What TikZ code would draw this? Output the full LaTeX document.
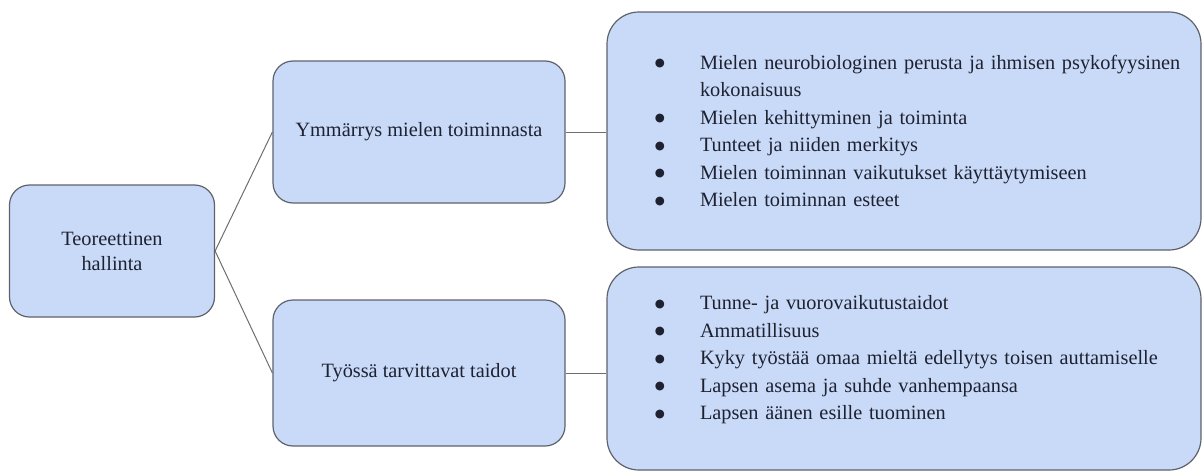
\documentclass[tikz,border=0pt]{standalone}
\usepackage{fontspec}
\setmainfont{Liberation Serif}
\newfontfamily\bulletfont{DejaVu Sans}
\usetikzlibrary{positioning}

\definecolor{boxfill}{HTML}{C9DAF8}
\definecolor{boxline}{HTML}{5E626B}
\definecolor{linkline}{HTML}{6E6E6E}
\definecolor{textcol}{HTML}{1E2130}

\newcommand{\bulletitem}[1]{\hspace*{33pt}\makebox[20pt]{\raisebox{2.5pt}{\bulletfont\fontsize{11.5}{11.5}\selectfont ●}}\hspace{30pt}#1}
\newcommand{\bulletcont}[1]{\hspace*{83pt}#1}

\begin{document}
\begin{tikzpicture}[x=1pt, y=-1pt]
	\tikzset{BoxStyle/.style = {
			shape=rectangle,
			rounded corners=20pt,
			draw=boxline,
			line width=1.2pt,
			fill=boxfill,
			text=textcol,
			align=center,
			font=\fontsize{20.3}{25}\selectfont
	}}
	\tikzset{ListStyle/.style = {
			BoxStyle,
			rounded corners=32pt,
			inner xsep=10pt,
			text width=574pt,
			align=left,
			font=\fontsize{20.3}{27.5}\selectfont
	}}
	\tikzset{LinkStyle/.style = {
			color=linkline,
			line width=1pt
	}}
	\useasboundingbox (0,0) rectangle (1203,471);

	\node[BoxStyle, minimum width=205pt, minimum height=132pt] (teoria) at (112,251) {Teoreettinen\\hallinta};
	\node[BoxStyle, minimum width=292pt, minimum height=142pt] (mieli) at (419,132) {Ymmärrys mielen toiminnasta};
	\node[BoxStyle, minimum width=292pt, minimum height=146pt] (taidot) at (419,373) {Työssä tarvittavat taidot};

	\node[ListStyle, minimum height=238pt] (mieliLista) at (904,131) {%
		\bulletitem{Mielen neurobiologinen perusta ja ihmisen psykofyysinen}\\
		\bulletcont{kokonaisuus}\\
		\bulletitem{Mielen kehittyminen ja toiminta}\\
		\bulletitem{Tunteet ja niiden merkitys}\\
		\bulletitem{Mielen toiminnan vaikutukset käyttäytymiseen}\\
		\bulletitem{Mielen toiminnan esteet}};
	\node[ListStyle, minimum height=203pt] (taidotLista) at (904,368.5) {%
		\bulletitem{Tunne- ja vuorovaikutustaidot}\\
		\bulletitem{Ammatillisuus}\\
		\bulletitem{Kyky työstää omaa mieltä edellytys toisen auttamiselle}\\
		\bulletitem{Lapsen asema ja suhde vanhempaansa}\\
		\bulletitem{Lapsen äänen esille tuominen}\\[-5.5pt]
		\mbox{}};

	\path [LinkStyle] (teoria.east) edge (mieli.west);
	\path [LinkStyle] (teoria.east) edge (taidot.west);
	\path [LinkStyle] (mieli.east) edge (mieli.east -| mieliLista.west);
	\path [LinkStyle] (taidot.east) edge (taidot.east -| taidotLista.west);
\end{tikzpicture}
\end{document}
